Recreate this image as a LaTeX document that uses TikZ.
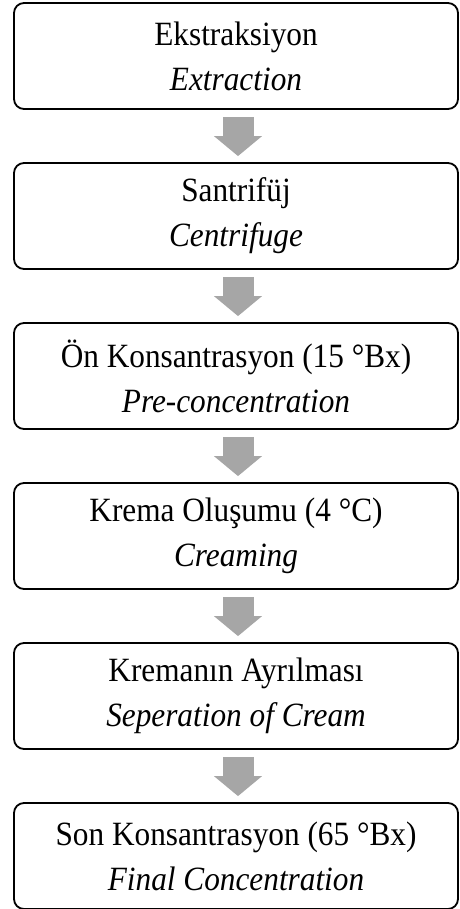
\documentclass[tikz,border=0pt]{standalone}
\usepackage{fontspec}
\setmainfont[FakeStretch=0.92]{Liberation Serif}
\usetikzlibrary{arrows.meta}
\definecolor{arrowgray}{RGB}{166,166,166}

\begin{document}
\begin{tikzpicture}[
  x=1pt, y=1pt,
  stepbox/.style={rectangle, draw, line width=1.8pt, rounded corners=10pt, align=center, minimum width=444pt, minimum height=106pt, inner sep=0pt, font=\fontsize{34}{45}\selectfont},
  flow/.style={draw=arrowgray, line width=31pt, -{Triangle[width=47pt, length=20pt]}}
]
\useasboundingbox (0,0) rectangle (459,-909);

% Process Steps
\node[stepbox] (extract) at (236, -56) {Ekstraksiyon\\\textit{Extraction}};
\node[stepbox] (centri) at (236, -216) {Santrifüj\\\textit{Centrifuge}};
\node[stepbox] (precon) at (236, -376) {Ön Konsantrasyon (15 °Bx)\\\textit{Pre-concentration}};
\node[stepbox] (cream) at (236, -536) {Krema Oluşumu (4 °C)\\\textit{Creaming}};
\node[stepbox] (separ) at (236, -696) {Kremanın Ayrılması\\\textit{Seperation of Cream}};
\node[stepbox] (final) at (236, -856) {Son Konsantrasyon (65 °Bx)\\\textit{Final Concentration}};

% Flow Arrows
\draw[flow] ([xshift=2pt, yshift=-7pt]extract.south) -- ([xshift=2pt, yshift=6pt]centri.north);
\draw[flow] ([xshift=2pt, yshift=-7pt]centri.south) -- ([xshift=2pt, yshift=6pt]precon.north);
\draw[flow] ([xshift=2pt, yshift=-7pt]precon.south) -- ([xshift=2pt, yshift=6pt]cream.north);
\draw[flow] ([xshift=2pt, yshift=-7pt]cream.south) -- ([xshift=2pt, yshift=6pt]separ.north);
\draw[flow] ([xshift=2pt, yshift=-7pt]separ.south) -- ([xshift=2pt, yshift=6pt]final.north);
\end{tikzpicture}
\end{document}
